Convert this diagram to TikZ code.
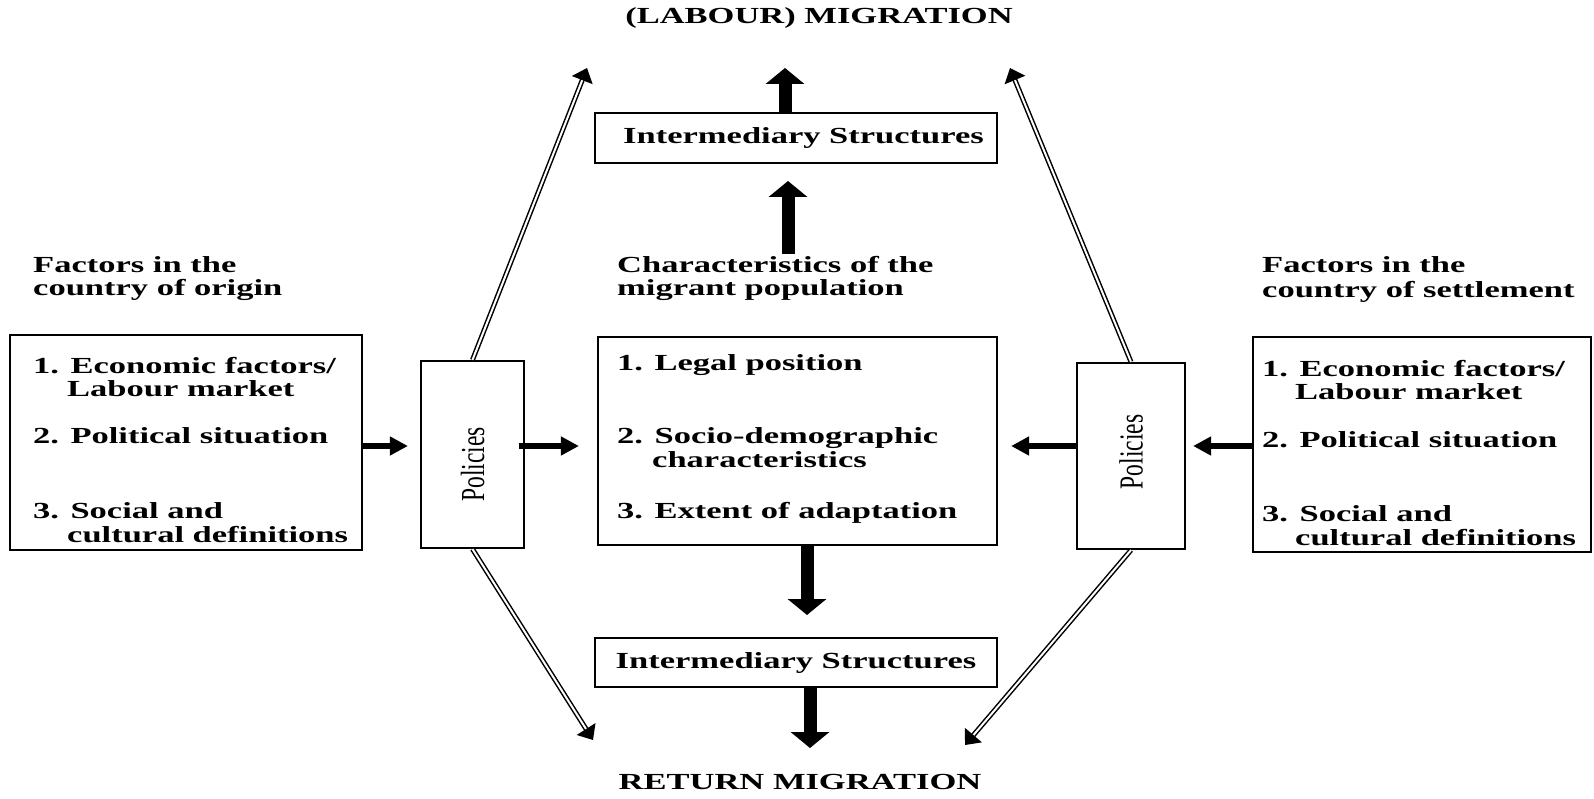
\documentclass[tikz,border=0pt]{standalone}
\usepackage{fontspec}
\usepackage{graphicx}
\setmainfont{Liberation Serif}[FakeStretch=1.5]
\newfontfamily\polfont{Liberation Serif}
\usetikzlibrary{arrows.meta}
\begin{document}
\begin{tikzpicture}[x=1pt,y=-1pt,
  every node/.style={font=\fontsize{23}{25}\selectfont\bfseries},
  txt/.style={inner sep=0pt, anchor=base west},
  ttl/.style={inner sep=0pt, anchor=base},
  boxst/.style={draw=black, line width=2.2pt, inner sep=0pt},
  harrow/.style={line width=6pt, -{Triangle[length=18pt,width=18pt]}},
  varrow/.style={line width=13pt, -{Triangle[length=16pt,width=38pt]}},
  darrow/.style={double=white, double distance=2pt, line width=1.5pt, -{Triangle[length=13pt,width=22pt]}},
]
\fill[white] (0,0) rectangle (1594,799);
\useasboundingbox (0,0) rectangle (1594,799);

% titles
\node[ttl] (top) at (819,24) {(LABOUR) MIGRATION};
\node[ttl] (bot) at (800,789) {RETURN MIGRATION};

% boxes
\node[boxst, minimum width=352pt, minimum height=215pt] (LB) at (186,442.5) {};
\node[boxst, minimum width=399pt, minimum height=208pt] (MB) at (797.5,441) {};
\node[boxst, minimum width=338pt, minimum height=215pt] (RB) at (1422,444.5) {};
\node[boxst, minimum width=103pt, minimum height=187pt] (LP) at (472.5,454.5)
  {\rotatebox{90}{\scalebox{1}[1.43]{\fontsize{23.5}{26}\polfont\mdseries Policies}\hspace*{20pt}}};
\node[boxst, minimum width=108pt, minimum height=186pt] (RP) at (1131,456)
  {\rotatebox{90}{\hspace*{8pt}\scalebox{1}[1.43]{\fontsize{23.5}{26}\polfont\mdseries Policies}}};
\node[boxst, minimum width=402pt, minimum height=50pt] (IT) at (796,138)
  {\hspace*{15pt}Intermediary Structures};
\node[boxst, minimum width=402pt, minimum height=49pt] (IB) at (796,662.5)
  {Intermediary Structures};

% left texts
\node[txt] (lh1) at (33,273) {Factors in the};
\node[txt] (lh2) at (33,296) {country of origin};
\node[txt] (l1a) at (33,373) {1. Economic factors/};
\node[txt] (l1b) at (67,396) {Labour market};
\node[txt] (l2) at (33,443) {2. Political situation};
\node[txt] (l3a) at (33,518) {3. Social and};
\node[txt] (l3b) at (67,542) {cultural definitions};

% middle texts
\node[txt] (mh1) at (617,273) {Characteristics of the};
\node[txt] (mh2) at (617,296) {migrant population};
\node[txt] (m1) at (617,370) {1. Legal position};
\node[txt] (m2a) at (617,443) {2. Socio-demographic};
\node[txt] (m2b) at (652,467) {characteristics};
\node[txt] (m3) at (617,518) {3. Extent of adaptation};

% right texts
\node[txt] (rh1) at (1262,273) {Factors in the};
\node[txt] (rh2) at (1262,298) {country of settlement};
\node[txt] (r1a) at (1262,376) {1. Economic factors/};
\node[txt] (r1b) at (1295,399) {Labour market};
\node[txt] (r2) at (1262,447) {2. Political situation};
\node[txt] (r3a) at (1262,521) {3. Social and};
\node[txt] (r3b) at (1295,545) {cultural definitions};

% horizontal connectors
\coordinate (row) at (0,446);
\draw[harrow, shorten >=12pt] (LB.east |- row) -- (LP.west |- row);
\draw[harrow, shorten >=18pt] ([xshift=-6pt]LP.east |- row) -- (MB.west |- row);
\draw[harrow, shorten >=13pt] (RP.west |- row) -- (MB.east |- row);
\draw[harrow, shorten >=7pt] (RB.west |- row) -- (RP.east |- row);

% diagonal connectors
\coordinate (tl) at (587,68);
\coordinate (bl) at (593,740);
\coordinate (tr) at (1010,68);
\coordinate (br) at (965,745);
\draw[darrow] (LP.north) -- (tl);
\draw[darrow] (LP.south) -- (bl);
\draw[darrow] (RP.north) -- (tr);
\draw[darrow] (RP.south) -- (br);

% vertical connectors
\coordinate (c1a) at (788,254);
\coordinate (c1b) at (788,181);
\coordinate (c2) at (785,68);
\coordinate (c3) at (807,615);
\coordinate (c4) at (810,748);
\draw[varrow] (c1a) -- (c1b);
\draw[varrow] (IT.north -| c2) -- (c2);
\draw[varrow] (MB.south -| c3) -- (c3);
\draw[varrow] (IB.south -| c4) -- (c4);
\end{tikzpicture}
\end{document}
